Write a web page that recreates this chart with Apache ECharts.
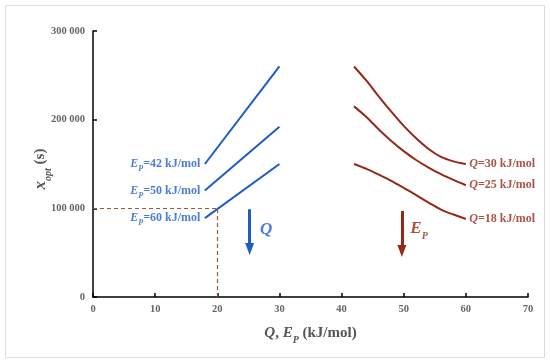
<!DOCTYPE html>
<html><head><meta charset="utf-8">
<script src="https://cdn.jsdelivr.net/npm/echarts@6/dist/echarts.min.js"></script>
<style>html,body{margin:0;padding:0;background:#fff}#c{width:550px;height:364px}</style>
</head><body><div id="c"></div>
<script>
// Blue: x_opt vs Q for fixed E_P
const xBlue = [18, 30];
const ep42 = [150000, 260000];
const ep50 = [120000, 192000];
const ep60 = [89000, 150000];
const blueNames = ['42', '50', '60'];
// Red: x_opt vs E_P for fixed Q
const xRed = [42, 44, 46, 48, 50, 52, 54, 56, 58, 60];
const q30 = [260000, 244000, 226000, 209000, 193000, 179000, 167000, 158000, 153000, 150000];
const q25 = [215000, 203000, 189000, 176000, 164500, 154500, 146000, 138500, 132000, 126000];
const q18 = [150000, 144500, 138000, 131000, 123000, 115000, 106500, 98500, 93000, 88000];
const redNames = ['30', '25', '18'];
// reference point and arrows
const refPoint = [20, 100000];
const arrowBlue = [[25.2, 99000], [25.2, 54000]];
const arrowRed = [[49.7, 97000], [49.7, 52000]];
const xTicks = [0, 10, 20, 30, 40, 50, 60, 70];
const yTicks = [0, 100000, 200000, 300000];

const BLUE = '#1f5cc4', RED = '#962818', DASH = '#9a5a3a';
const FONT = 'Liberation Serif';

function pair(xs, ys){ return xs.map((x,i)=>[x, ys[i]]); }

const blueRich = {
  e:{fontFamily:FONT,fontStyle:'italic',fontWeight:'bold',fontSize:12,color:BLUE},
  s:{fontFamily:FONT,fontStyle:'italic',fontWeight:'bold',fontSize:8,color:BLUE,verticalAlign:'bottom',padding:[0,0,-3,0]},
  t:{fontFamily:FONT,fontWeight:'bold',fontSize:12,color:BLUE}
};
const redRich = {
  q:{fontFamily:FONT,fontStyle:'italic',fontWeight:'bold',fontSize:12,color:RED},
  t:{fontFamily:FONT,fontWeight:'bold',fontSize:12,color:RED}
};

function line(xs, ys, color, smooth){
  return {type:'line', data:pair(xs, ys), smooth:smooth, showSymbol:false, symbol:'none',
    lineStyle:{color:color,width:2}, silent:true, z:3};
}

const blueLabels = [ep42, ep50, ep60].map((ys,i)=>({
  value:[xBlue[0], ys[0]],
  label:{show:true, position:'left', distance:4, formatter:'{e|E}{s|P}{t|=' + blueNames[i] + ' kJ/mol}', rich:blueRich}
}));
const redLabels = [q30, q25, q18].map((ys,i)=>({
  value:[xRed[xRed.length-1], ys[ys.length-1]],
  label:{show:true, position:'right', distance:3, formatter:'{q|Q}{t|=' + redNames[i] + ' kJ/mol}', rich:redRich}
}));
const arrowLabels = [
  {value:[arrowBlue[0][0], (arrowBlue[0][1]+arrowBlue[1][1])/2],
   label:{show:true, position:'right', distance:10, formatter:'{q|Q}',
     rich:{q:{fontFamily:FONT,fontStyle:'italic',fontWeight:'bold',fontSize:17,color:BLUE}}}},
  {value:[arrowRed[0][0], (arrowRed[0][1]+arrowRed[1][1])/2 + 3000],
   label:{show:true, position:'right', distance:8, formatter:'{e|E}{s|P}',
     rich:{e:{fontFamily:FONT,fontStyle:'italic',fontWeight:'bold',fontSize:17,color:RED},
           s:{fontFamily:FONT,fontStyle:'italic',fontWeight:'bold',fontSize:10,color:RED,verticalAlign:'bottom',padding:[0,0,-5,0]}}}}
];

const series = [
  line(xBlue, ep42, BLUE, false),
  line(xBlue, ep50, BLUE, false),
  line(xBlue, ep60, BLUE, false),
  line(xRed, q30, RED, 0.3),
  line(xRed, q25, RED, 0.3),
  line(xRed, q18, RED, 0.3),
  {type:'scatter', data:blueLabels.concat(redLabels, arrowLabels), symbol:'circle', symbolSize:1,
   itemStyle:{color:'rgba(0,0,0,0)'}, silent:true, z:5},
  {type:'line', data:[], silent:true, z:2,
   markLine:{silent:true, symbol:['none','none'], label:{show:false},
     lineStyle:{color:DASH, type:[4,3], width:1.2},
     data:[
       [{coord:[0, refPoint[1]]},{coord:[refPoint[0], refPoint[1]]}],
       [{coord:[refPoint[0], 0]},{coord:[refPoint[0], refPoint[1]]}]
     ]}},
  {type:'line', data:[], silent:true, z:4,
   markLine:{silent:true, symbol:['none','triangle'], symbolSize:[9,12], precision:2, label:{show:false},
     lineStyle:{color:BLUE, type:'solid', width:3},
     data:[[{coord:arrowBlue[0]},{coord:arrowBlue[1]}]]}},
  {type:'line', data:[], silent:true, z:4,
   markLine:{silent:true, symbol:['none','triangle'], symbolSize:[9,12], precision:2, label:{show:false},
     lineStyle:{color:RED, type:'solid', width:3},
     data:[[{coord:arrowRed[0]},{coord:arrowRed[1]}]]}}
];

const chart = echarts.init(document.getElementById('c'), null, {renderer:'canvas'});
chart.setOption({
  animation:false,
  backgroundColor:'#fff',
  graphic:[{type:'rect', shape:{x:5.5,y:5.5,width:539,height:352}, style:{fill:'none', stroke:'#dcdcdc', lineWidth:1}, silent:true}],
  grid:{left:93, right:22, top:31, bottom:67},
  xAxis:{type:'value', min:xTicks[0], max:xTicks[xTicks.length-1], interval:10,
    name:'{q|Q}{t|, }{e|E}{s|P}{t| (kJ/mol)}', nameLocation:'middle', nameGap:29, nameMoveOverlap:false,
    nameTextStyle:{rich:{
      q:{fontFamily:FONT,fontStyle:'italic',fontWeight:'bold',fontSize:15,color:'#555'},
      e:{fontFamily:FONT,fontStyle:'italic',fontWeight:'bold',fontSize:15,color:'#555'},
      s:{fontFamily:FONT,fontStyle:'italic',fontWeight:'bold',fontSize:10,color:'#555',verticalAlign:'bottom',padding:[0,0,-4,0]},
      t:{fontFamily:FONT,fontWeight:'bold',fontSize:15,color:'#555'}}},
    axisLine:{show:true, lineStyle:{color:'#000', width:1.5}},
    axisTick:{show:true, inside:true, length:4, lineStyle:{color:'#000', width:1.5}},
    axisLabel:{fontFamily:FONT, fontWeight:'bold', fontSize:10.5, color:'#666', margin:7},
    splitLine:{show:false}},
  yAxis:{type:'value', min:yTicks[0], max:yTicks[yTicks.length-1], interval:100000,
    name:'{x|x}{s|opt}{t| (s)}', nameLocation:'middle', nameGap:44, nameRotate:90, nameMoveOverlap:false,
    nameTextStyle:{padding:[0,10,0,0], rich:{
      x:{fontFamily:FONT,fontStyle:'italic',fontWeight:'bold',fontSize:17,color:'#555'},
      s:{fontFamily:FONT,fontStyle:'italic',fontWeight:'bold',fontSize:10,color:'#555',verticalAlign:'bottom',padding:[0,0,-4,0]},
      t:{fontFamily:FONT,fontWeight:'bold',fontSize:15,color:'#555'}}},
    axisLine:{show:true, lineStyle:{color:'#000', width:1.5}},
    axisTick:{show:true, inside:true, length:4, lineStyle:{color:'#000', width:1.5}},
    axisLabel:{fontFamily:FONT, fontWeight:'bold', fontSize:10.5, color:'#666', margin:8,
      formatter:v => String(v).replace(/\B(?=(\d{3})+(?!\d))/g, ' ')},
    splitLine:{show:false}},
  series:series
});
</script></body></html>
